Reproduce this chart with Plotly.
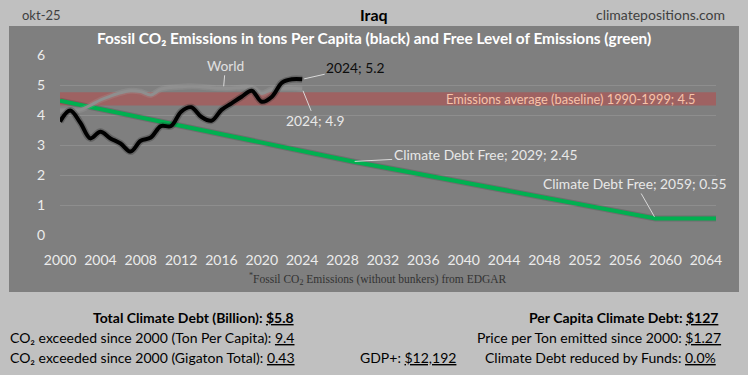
import plotly.graph_objects as go

# ---------------- data ----------------
years = list(range(2000, 2025))
iraq = [3.78, 4.15, 3.75, 3.22, 3.44, 3.22, 3.05, 2.78, 3.14, 3.25, 3.63, 3.63,
        4.11, 4.26, 3.94, 3.81, 4.17, 4.39, 4.61, 4.81, 4.44, 4.61, 5.08, 5.19, 5.19]
world = [4.14, 4.15, 4.17, 4.32, 4.50, 4.63, 4.74, 4.81, 4.78, 4.67, 4.86, 4.92,
         4.94, 4.96, 4.94, 4.91, 4.89, 4.89, 4.92, 4.91, 4.72, 4.86, 4.89, 4.89, 4.87]
free_years = [2000, 2029, 2059, 2065]
free_values = [4.48, 2.45, 0.55, 0.55]
baseline_low, baseline_high = 4.32, 4.76
x_ticks = list(range(2000, 2065, 4))
y_ticks = [0, 1, 2, 3, 4, 5, 6]

# ---------------- layout geometry ----------------
WIDTH, HEIGHT = 748, 375
L, R, T, B = 60, 716, 55, 235
PW, PH = R - L, B - T


def px(x):
    return (x - L) / PW


def py(y):
    return (B - y) / PH


FONT = "Lato"
fig = go.Figure()

fig.add_trace(go.Scatter(x=free_years, y=free_values, mode="lines",
                         line=dict(color="rgba(60,60,60,0.25)", width=6), hoverinfo="skip"))
fig.add_trace(go.Scatter(x=free_years, y=free_values, mode="lines",
                         line=dict(color="#00b050", width=4), hoverinfo="skip"))
# world (with soft highlight)
fig.add_trace(go.Scatter(x=years, y=world, mode="lines", line_shape="spline",
                         line=dict(color="rgba(180,180,180,0.18)", width=6), hoverinfo="skip"))
fig.add_trace(go.Scatter(x=years, y=world, mode="lines", line_shape="spline",
                         line=dict(color="#8f8f8f", width=3), hoverinfo="skip"))
# Iraq (with soft shadow)
fig.add_trace(go.Scatter(x=years, y=iraq, mode="lines", line_shape="spline",
                         line=dict(color="rgba(40,40,40,0.3)", width=7), hoverinfo="skip"))
fig.add_trace(go.Scatter(x=years, y=iraq, mode="lines", line_shape="spline",
                         line=dict(color="#000000", width=4), hoverinfo="skip"))

shapes = [
    dict(type="rect", xref="paper", yref="paper", x0=px(9), x1=px(739), y0=py(292), y1=py(26),
         fillcolor="#7f7f7f", line=dict(width=0), layer="below"),
    dict(type="rect", xref="x", yref="y", x0=2000, x1=2065, y0=baseline_low, y1=baseline_high,
         fillcolor="#9e6262", line=dict(width=0), layer="below"),
]

ann = []


def text(x, y, s, size=14, color="#000", anchor="center", family=FONT, yanchor="middle"):
    ann.append(dict(x=px(x), y=py(y), xref="paper", yref="paper", text=s, showarrow=False,
                    xanchor=anchor, yanchor=yanchor, font=dict(size=size, color=color, family=family)))


# header
text(20, 15, "okt-25", 13, "#404040", "left")
text(374, 15, "<b>Iraq</b>", 16, "#000")
text(727, 15, "climatepositions.com", 14, "#404040", "right")
text(374, 38, "<b>Fossil CO₂ Emissions in tons Per Capita (black) and Free Level of Emissions (green)</b>",
     15.4, "#ffffff")
# footnote
text(378, 279, "<sup>*</sup>Fossil CO<sub>2</sub> Emissions (without bunkers) from EDGAR", 11.5,
     "#333333", family="Liberation Serif")
# bottom stats
text(296, 317, "<b>Total Climate Debt (Billion): <u>$5.8</u></b>", 14, "#000", "right")
text(296, 337, "CO₂ exceeded since 2000 (Ton Per Capita): <u>9.4</u>", 14, "#000", "right")
text(297, 357, "CO₂ exceeded since 2000 (Gigaton Total): <u>0.43</u>", 14, "#000", "right")
text(458, 357, "GDP+: <u>$12,192</u>", 14, "#000", "right")
text(720, 317, "<b>Per Capita Climate Debt: <u>$127</u></b>", 14, "#000", "right")
text(723, 337, "Price per Ton emitted since 2000: <u>$1.27</u>", 14, "#000", "right")
text(718, 357, "Climate Debt reduced by Funds: <u>0.0%</u>", 14, "#000", "right")

# in-chart labels
ann.append(dict(x=2050.6, y=4.53, xref="x", yref="y", text="Emissions average (baseline) 1990-1999; 4.5",
                showarrow=False, font=dict(size=12.8, color="#f7c3aa", family=FONT)))


def callout(x, y, s, ax, ay, color):
    ann.append(dict(x=x, y=y, xref="x", yref="y", text=s, showarrow=True, arrowhead=0,
                    arrowwidth=1, arrowcolor="#d9d9d9", ax=ax, ay=ay, standoff=2,
                    font=dict(size=13.8, color=color, family=FONT)))


callout(years[-1], iraq[-1], "2024; 5.2", 53, -12, "#0d0d0d")
callout(years[-1], world[-1], "2024; 4.9", 13, 32, "#e8e8e8")
callout(2016.2, 4.89, "World", 2, -23, "#e0e0e0")
callout(2029, 2.45, "Climate Debt Free; 2029; 2.45", 133, -7, "#e8e8e8")
callout(2059, 0.55, "Climate Debt Free; 2059; 0.55", -20, -35, "#e8e8e8")

fig.update_layout(
    width=WIDTH, height=HEIGHT,
    margin=dict(l=L, r=WIDTH - R, t=T, b=HEIGHT - B, autoexpand=False),
    paper_bgcolor="#c0c0c0", plot_bgcolor="rgba(0,0,0,0)",
    showlegend=False, shapes=shapes, annotations=ann,
    xaxis=dict(range=[2000, 2065], tickvals=x_ticks, ticktext=[str(v) for v in x_ticks],
               showgrid=False, zeroline=False, showline=False, ticks="",
               tickfont=dict(size=14, color="#ececec", family=FONT), ticklabelstandoff=15,
               fixedrange=True),
    yaxis=dict(range=[0, 6], tickvals=y_ticks, showgrid=True, gridcolor="#8e8e8e", gridwidth=1,
               zeroline=False, showline=False, ticks="",
               tickfont=dict(size=14, color="#ececec", family=FONT), ticklabelstandoff=14,
               fixedrange=True),
)

fig.write_html("out.html", config={"displayModeBar": False},
               post_script="document.body.style.margin='0';document.body.style.overflow='hidden';")
